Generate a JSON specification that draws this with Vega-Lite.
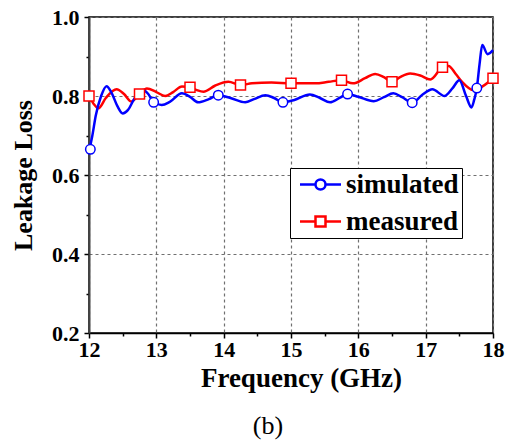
{
  "$schema": "https://vega.github.io/schema/vega-lite/v6.json",
  "autosize": {"type": "none"},
  "width": 404,
  "height": 316,
  "padding": {"left": 89, "top": 17, "right": 18, "bottom": 115},
  "background": "white",
  "config": {
    "view": {"stroke": "black", "strokeWidth": 1.5},
    "font": "Liberation Serif"
  },
  "title": {
    "text": "(b)",
    "orient": "bottom",
    "anchor": "middle",
    "font": "Liberation Serif",
    "fontSize": 26,
    "fontWeight": "normal",
    "color": "black",
    "offset": 22,
    "dx": -23
  },
  "datasets": {
    "curves": [
      {"series": "measured", "f": 12.0, "v": 0.80},
      {"series": "measured", "f": 12.07, "v": 0.78},
      {"series": "measured", "f": 12.14, "v": 0.769},
      {"series": "measured", "f": 12.25, "v": 0.795},
      {"series": "measured", "f": 12.41, "v": 0.817},
      {"series": "measured", "f": 12.52, "v": 0.805},
      {"series": "measured", "f": 12.63, "v": 0.786},
      {"series": "measured", "f": 12.75, "v": 0.805},
      {"series": "measured", "f": 12.86, "v": 0.819},
      {"series": "measured", "f": 13.0, "v": 0.81},
      {"series": "measured", "f": 13.13, "v": 0.80},
      {"series": "measured", "f": 13.25, "v": 0.81},
      {"series": "measured", "f": 13.38, "v": 0.824},
      {"series": "measured", "f": 13.5, "v": 0.822},
      {"series": "measured", "f": 13.6, "v": 0.815},
      {"series": "measured", "f": 13.7, "v": 0.811},
      {"series": "measured", "f": 13.87, "v": 0.826},
      {"series": "measured", "f": 14.07, "v": 0.836},
      {"series": "measured", "f": 14.25, "v": 0.828},
      {"series": "measured", "f": 14.42, "v": 0.832},
      {"series": "measured", "f": 14.71, "v": 0.834},
      {"series": "measured", "f": 15.0, "v": 0.832},
      {"series": "measured", "f": 15.36, "v": 0.832},
      {"series": "measured", "f": 15.56, "v": 0.836},
      {"series": "measured", "f": 15.75, "v": 0.84},
      {"series": "measured", "f": 15.92, "v": 0.832},
      {"series": "measured", "f": 16.1, "v": 0.845},
      {"series": "measured", "f": 16.25, "v": 0.856},
      {"series": "measured", "f": 16.38, "v": 0.848},
      {"series": "measured", "f": 16.5, "v": 0.836},
      {"series": "measured", "f": 16.62, "v": 0.848},
      {"series": "measured", "f": 16.77, "v": 0.857},
      {"series": "measured", "f": 16.92, "v": 0.852},
      {"series": "measured", "f": 17.07, "v": 0.842},
      {"series": "measured", "f": 17.25, "v": 0.873},
      {"series": "measured", "f": 17.34, "v": 0.876},
      {"series": "measured", "f": 17.45, "v": 0.855},
      {"series": "measured", "f": 17.54, "v": 0.836},
      {"series": "measured", "f": 17.71, "v": 0.815},
      {"series": "measured", "f": 17.85, "v": 0.825},
      {"series": "measured", "f": 18.0, "v": 0.845},
      {"series": "simulated", "f": 12.0, "v": 0.66},
      {"series": "simulated", "f": 12.05, "v": 0.70},
      {"series": "simulated", "f": 12.1, "v": 0.75},
      {"series": "simulated", "f": 12.18, "v": 0.80},
      {"series": "simulated", "f": 12.26, "v": 0.825},
      {"series": "simulated", "f": 12.33, "v": 0.81},
      {"series": "simulated", "f": 12.42, "v": 0.775},
      {"series": "simulated", "f": 12.5, "v": 0.756},
      {"series": "simulated", "f": 12.58, "v": 0.765},
      {"series": "simulated", "f": 12.68, "v": 0.795},
      {"series": "simulated", "f": 12.8, "v": 0.815},
      {"series": "simulated", "f": 12.88, "v": 0.805},
      {"series": "simulated", "f": 12.96, "v": 0.784},
      {"series": "simulated", "f": 13.08, "v": 0.777},
      {"series": "simulated", "f": 13.2, "v": 0.785},
      {"series": "simulated", "f": 13.38, "v": 0.807},
      {"series": "simulated", "f": 13.5, "v": 0.798},
      {"series": "simulated", "f": 13.62, "v": 0.784},
      {"series": "simulated", "f": 13.78, "v": 0.792},
      {"series": "simulated", "f": 13.92, "v": 0.802},
      {"series": "simulated", "f": 14.1, "v": 0.795},
      {"series": "simulated", "f": 14.32, "v": 0.784},
      {"series": "simulated", "f": 14.45, "v": 0.792},
      {"series": "simulated", "f": 14.62, "v": 0.802},
      {"series": "simulated", "f": 14.75, "v": 0.795},
      {"series": "simulated", "f": 14.88, "v": 0.784},
      {"series": "simulated", "f": 15.05, "v": 0.79},
      {"series": "simulated", "f": 15.28, "v": 0.804},
      {"series": "simulated", "f": 15.43, "v": 0.795},
      {"series": "simulated", "f": 15.58, "v": 0.784},
      {"series": "simulated", "f": 15.72, "v": 0.795},
      {"series": "simulated", "f": 15.84, "v": 0.805},
      {"series": "simulated", "f": 16.0, "v": 0.798},
      {"series": "simulated", "f": 16.23, "v": 0.787},
      {"series": "simulated", "f": 16.38, "v": 0.797},
      {"series": "simulated", "f": 16.52, "v": 0.807},
      {"series": "simulated", "f": 16.65, "v": 0.797},
      {"series": "simulated", "f": 16.8, "v": 0.783},
      {"series": "simulated", "f": 16.95, "v": 0.803},
      {"series": "simulated", "f": 17.1, "v": 0.817},
      {"series": "simulated", "f": 17.28, "v": 0.80},
      {"series": "simulated", "f": 17.4, "v": 0.82},
      {"series": "simulated", "f": 17.5, "v": 0.84},
      {"series": "simulated", "f": 17.6, "v": 0.80},
      {"series": "simulated", "f": 17.68, "v": 0.771},
      {"series": "simulated", "f": 17.72, "v": 0.79},
      {"series": "simulated", "f": 17.76, "v": 0.82},
      {"series": "simulated", "f": 17.8, "v": 0.88},
      {"series": "simulated", "f": 17.84, "v": 0.929},
      {"series": "simulated", "f": 17.92, "v": 0.906},
      {"series": "simulated", "f": 18.0, "v": 0.916}
    ],
    "markers": [
      {"series": "simulated", "f": 12.02, "v": 0.665},
      {"series": "simulated", "f": 12.96, "v": 0.784},
      {"series": "simulated", "f": 13.92, "v": 0.802},
      {"series": "simulated", "f": 14.88, "v": 0.784},
      {"series": "simulated", "f": 15.84, "v": 0.805},
      {"series": "simulated", "f": 16.8, "v": 0.783},
      {"series": "simulated", "f": 17.76, "v": 0.82},
      {"series": "measured", "f": 12.0, "v": 0.80},
      {"series": "measured", "f": 12.75, "v": 0.805},
      {"series": "measured", "f": 13.5, "v": 0.822},
      {"series": "measured", "f": 14.25, "v": 0.828},
      {"series": "measured", "f": 15.0, "v": 0.832},
      {"series": "measured", "f": 15.75, "v": 0.84},
      {"series": "measured", "f": 16.5, "v": 0.836},
      {"series": "measured", "f": 17.25, "v": 0.873},
      {"series": "measured", "f": 18.0, "v": 0.845}
    ]
  },
  "encoding": {
    "x": {
      "field": "f",
      "type": "quantitative",
      "scale": {"domain": [12, 18], "nice": false, "zero": false},
      "axis": {
        "values": [12, 12.5, 13, 13.5, 14, 14.5, 15, 15.5, 16, 16.5, 17, 17.5, 18],
        "labelExpr": "datum.value % 1 === 0 ? format(datum.value, 'd') : ''",
        "labelFont": "Liberation Serif",
        "labelFontWeight": "bold",
        "labelFontSize": 22,
        "labelColor": "black",
        "labelPadding": 1,
        "labelFlush": false,
        "labelOverlap": false,
        "tickColor": "black",
        "tickWidth": 1.5,
        "tickSize": {"condition": {"test": "datum.value % 1 !== 0", "value": 3}, "value": 5},
        "domainColor": "black",
        "domainWidth": 1.5,
        "grid": true,
        "gridColor": "#707070",
        "gridDash": [3, 3],
        "gridWidth": 1.2,
        "gridOpacity": {"condition": {"test": "datum.value % 1 !== 0", "value": 0}, "value": 1},
        "title": "Frequency (GHz)",
        "titleFont": "Liberation Serif",
        "titleFontSize": 27,
        "titleFontWeight": "bold",
        "titleColor": "black",
        "titlePadding": 5,
        "titleX": 212,
        "titleAlign": "center",
        "titleAnchor": null
      }
    },
    "y": {
      "field": "v",
      "type": "quantitative",
      "scale": {"domain": [0.2, 1.0], "nice": false, "zero": false},
      "axis": {
        "values": [0.2, 0.3, 0.4, 0.5, 0.6, 0.7, 0.8, 0.9, 1.0],
        "labelExpr": "round(datum.value * 10) % 2 === 0 ? format(datum.value, '.1f') : ''",
        "labelFont": "Liberation Serif",
        "labelFontWeight": "bold",
        "labelFontSize": 22,
        "labelColor": "black",
        "labelPadding": 5,
        "labelFlush": false,
        "labelOverlap": false,
        "tickColor": "black",
        "tickWidth": 1.5,
        "tickSize": {"condition": {"test": "round(datum.value * 10) % 2 !== 0", "value": 3}, "value": 5},
        "domainColor": "#444444",
        "domainWidth": 2,
        "grid": true,
        "gridColor": "#707070",
        "gridDash": [3, 3],
        "gridWidth": 1.2,
        "gridOpacity": {"condition": {"test": "round(datum.value * 10) % 2 !== 0", "value": 0}, "value": 1},
        "title": "Leakage Loss",
        "titleFont": "Liberation Serif",
        "titleFontSize": 26,
        "titleFontWeight": "bold",
        "titleColor": "black",
        "titlePadding": 15
      }
    },
    "stroke": {
      "field": "series",
      "type": "nominal",
      "scale": {"domain": ["simulated", "measured"], "range": ["#0000ff", "#ff0000"]},
      "legend": {
        "orient": "none",
        "legendX": 201,
        "legendY": 151,
        "title": null,
        "padding": 3,
        "strokeColor": "black",
        "fillColor": "white",
        "labelFont": "Liberation Serif",
        "labelFontSize": 27,
        "labelFontWeight": "bold",
        "labelColor": "black",
        "labelOffset": 12,
        "rowPadding": 9,
        "symbolSize": 400,
        "symbolOffset": 14,
        "symbolStrokeWidth": 2.5,
        "symbolFillColor": "white",
        "symbolOpacity": 1,
        "encode": {
          "symbols": {
            "update": {
              "shape": {"signal": "datum.value === 'simulated' ? 'M-2.05,0H-0.5M0.5,0H2.05M-0.5,0A0.5,0.5 0 1 0 0.5,0A0.5,0.5 0 1 0 -0.5,0' : 'M-2.05,0H-0.5M0.5,0H2.05M-0.5,-0.5H0.5V0.5H-0.5Z'"},
              "fill": {"value": "white"}
            }
          }
        }
      }
    }
  },
  "layer": [
    {
      "data": {"name": "curves"},
      "transform": [{"filter": "datum.series === 'measured'"}],
      "mark": {"type": "line", "interpolate": "monotone", "strokeWidth": 2.5}
    },
    {
      "data": {"name": "curves"},
      "transform": [{"filter": "datum.series === 'simulated'"}],
      "mark": {"type": "line", "interpolate": "monotone", "strokeWidth": 2.5}
    },
    {
      "data": {"name": "markers"},
      "transform": [{"filter": "datum.series === 'measured'"}],
      "mark": {"type": "point", "shape": "square", "filled": false, "fill": "white", "fillOpacity": 1, "strokeWidth": 1.5, "opacity": 1, "size": 100}
    },
    {
      "data": {"name": "markers"},
      "transform": [{"filter": "datum.series === 'simulated'"}],
      "mark": {"type": "point", "shape": "circle", "filled": false, "fill": "white", "fillOpacity": 1, "strokeWidth": 1.5, "opacity": 1, "size": 90}
    }
  ]
}
